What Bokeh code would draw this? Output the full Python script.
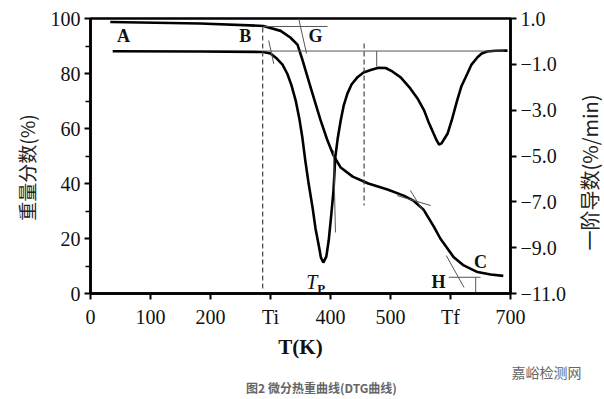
import math
from bokeh.plotting import figure
from bokeh.models import Range1d, LinearAxis, FixedTicker, Label
from bokeh.embed import file_html
from bokeh.resources import INLINE

# ---------------- data ----------------
# TG curve: weight fraction (%) vs temperature T (K)  -> left axis
tg_T = [33, 183, 288, 317, 333, 345, 353, 363, 373, 383, 395, 405, 417, 437, 463,
        495, 522, 538, 555, 572, 583, 605, 622, 645, 667, 688]
tg_W = [98.7, 98.2, 97.3, 95.5, 93.1, 90.5, 85.1, 77.8, 70.5, 63.3, 55.6, 50.2, 45.8,
        42.5, 40.0, 37.8, 35.6, 33.8, 30.5, 24.4, 20.0, 13.3, 10.2, 7.8, 6.9, 6.4]

# DTG curve: first derivative (%/min) vs T (K)  -> right axis
dtg_T = [37, 183, 288, 300, 311, 320, 328, 335, 342, 348, 353, 358, 363, 370, 375, 381,
         384, 388, 393, 397, 401, 405, 408, 412, 417, 422, 428, 435, 445, 455, 467, 480,
         492, 503, 517, 533, 545, 556, 563, 572, 577, 581, 585, 589, 595, 602, 611, 618,
         628, 635, 645, 652, 661, 675, 695]
dtg_R = [-0.43, -0.44, -0.46, -0.53, -0.76, -1.01, -1.41, -1.92, -2.58, -3.36, -4.18,
         -5.20, -6.11, -7.23, -8.16, -8.98, -9.43, -9.65, -9.39, -8.69, -7.64, -6.51,
         -5.05, -4.24, -3.45, -2.80, -2.29, -1.88, -1.56, -1.36, -1.25, -1.15, -1.16,
         -1.31, -1.57, -2.05, -2.49, -3.01, -3.49, -4.03, -4.32, -4.50, -4.45, -4.28,
         -4.03, -3.45, -2.58, -1.97, -1.41, -1.01, -0.69, -0.53, -0.44, -0.41, -0.40]

# characteristic temperatures
T_i, T_peak2, T_mid, T_H = 287, 477, 456, 642

# axis ticks
x_ticks = [0, 100, 200, 300, 400, 500, 600, 700]
x_tick_text = ["0", "100", "200", "Ti", "400", "500", "Tf", "700"]
yl_ticks = [0, 20, 40, 60, 80, 100]
yl_minor = [10, 30, 50, 70, 90]
yr_ticks = [1, -1, -3, -5, -7, -9, -11]
yr_tick_text = ["1.0", "\u22121.0", "\u22123.0", "\u22125.0", "\u22127.0", "\u22129.0", "\u221211.0"]

SERIF = "Liberation Serif"
CJK = "Noto Sans CJK SC"

p = figure(width=604, height=399, output_backend="svg", toolbar_location=None,
           x_range=Range1d(0, 700), y_range=Range1d(0, 100),
           min_border_left=90, min_border_right=94, min_border_top=18, min_border_bottom=106)
p.extra_y_ranges = {"dtg": Range1d(-11, 1)}
p.xgrid.visible = False
p.ygrid.visible = False
p.outline_line_color = "black"
p.outline_line_width = 2.5
p.background_fill_color = "white"
p.border_fill_color = "white"

# x axis
xa = p.xaxis[0]
xa.ticker = FixedTicker(ticks=x_ticks)
xa.major_label_overrides = {t: s for t, s in zip(x_ticks, x_tick_text)}
xa.minor_tick_line_color = None
xa.major_tick_in = 0
xa.major_tick_out = 6
xa.major_tick_line_width = 2
xa.axis_line_width = 2.5
xa.major_label_standoff = 6
xa.major_label_text_font = SERIF
xa.major_label_text_font_size = "20px"
xa.major_label_text_color = "#111"
xa.axis_label = "T(K)"
xa.axis_label_text_font = SERIF
xa.axis_label_text_font_size = "21px"
xa.axis_label_text_font_style = "bold"
xa.axis_label_text_color = "#111"
xa.axis_label_standoff = 4

# left axis
ya = p.yaxis[0]
ya.ticker = FixedTicker(ticks=yl_ticks, minor_ticks=yl_minor)
ya.major_tick_in = 0
ya.major_tick_out = 6
ya.minor_tick_in = 0
ya.minor_tick_out = 5
ya.major_tick_line_width = 2
ya.minor_tick_line_width = 1.5
ya.axis_line_width = 2.5
ya.major_label_standoff = 4
ya.major_label_text_font = SERIF
ya.major_label_text_font_size = "20px"
ya.major_label_text_color = "#111"

# right axis
ra = LinearAxis(y_range_name="dtg")
ra.ticker = FixedTicker(ticks=yr_ticks)
ra.major_label_overrides = {t: s for t, s in zip(yr_ticks, yr_tick_text)}
ra.minor_tick_line_color = None
ra.major_tick_in = 0
ra.major_tick_out = 6
ra.major_tick_line_width = 2
ra.axis_line_width = 2.5
ra.major_label_standoff = 4
ra.major_label_text_font = SERIF
ra.major_label_text_font_size = "20px"
ra.major_label_text_color = "#111"
p.add_layout(ra, "right")

# axis titles (both read bottom-to-top), placed in the side panels so they are not clipped
p.add_layout(Label(x=-107, y=45.8, text="重量分数(%)", angle=math.pi / 2,
                   text_font=CJK, text_font_size="19px", text_color="#222",
                   text_align="center", text_baseline="middle"), "left")
p.add_layout(Label(x=832, y=44, text="一阶导数(%/min)", angle=math.pi / 2,
                   text_font=CJK, text_font_size="20px", text_color="#222",
                   text_align="center", text_baseline="middle"), "right")

# ---------------- curves ----------------
p.line(tg_T, tg_W, line_color="black", line_width=2.6)
p.line(dtg_T, dtg_R, line_color="black", line_width=2.6, y_range_name="dtg")

# construction / tangent lines (thin)
thin = dict(line_color="#555", line_width=1)
p.line([tg_T[2], 395], [97.1, 97.1], **thin)                          # TG onset level (B-G)
p.line([347, 360], [100, 87.3], **thin)                                # tangent through G
p.line([tg_T[2], 690], [-0.42, -0.42], y_range_name="dtg", **thin)     # DTG baseline
p.line([297, 305.5], [0.04, -0.98], y_range_name="dtg", **thin)        # DTG onset tangent
p.line([T_peak2, T_peak2], [-0.42, -1.1], y_range_name="dtg", **thin)  # second peak marker
p.line([405, 408.3], [52, 22.2], **thin)                               # tangent near T_p
p.line([511, 567], [35.6, 32.0], **thin)                               # plateau tangent
p.line([533, 555.5], [37.5, 29.6], **thin)                             # second-step tangent
p.line([597, 650], [5.9, 5.9], **thin)                                 # H level
p.line([T_H, T_H], [5.9, 0], **thin)                                   # T_f marker
p.line([593, 622.5], [13.8, 2.2], **thin)                              # end tangent

# dashed verticals
p.line([T_i, T_i], [96.7, 1.0], line_color="#444", line_width=1.2, line_dash="5 3")
p.line([T_mid, T_mid], [90.9, 32.0], line_color="#444", line_width=1.2, line_dash="5 3")

# ---------------- text inside the frame ----------------
def lab(x, y, text, size="18px", style="bold", align="center"):
    p.add_layout(Label(x=x, y=y, text=text, text_font=SERIF, text_font_size=size,
                       text_font_style=style, text_align=align, text_baseline="middle",
                       text_color="#111"))

lab(55, 93.8, "A")
lab(258, 93.8, "B")
lab(375, 93.5, "G")
lab(580, 4.1, "H")
lab(650, 11.6, "C")
lab(378, 4.1, "T", size="20px", style="italic", align="right")
lab(378, 2.0, "P", size="13px", style="bold", align="left")

# ---------------- watermark and caption (outside the frame, in side panels) ----------------
p.add_layout(Label(x=760, y=-28.4, text="嘉峪检测网",
                   text_font=CJK, text_font_size="14px", text_color="#666",
                   text_align="center", text_baseline="middle"), "below")
p.add_layout(Label(x=385, y=-34.2, text="图2 微分热重曲线(DTG曲线)",
                   text_font=CJK, text_font_size="12px", text_font_style="bold",
                   text_color="#666", text_align="center", text_baseline="middle"), "above")

open("out.html", "w").write(file_html(p, INLINE))
